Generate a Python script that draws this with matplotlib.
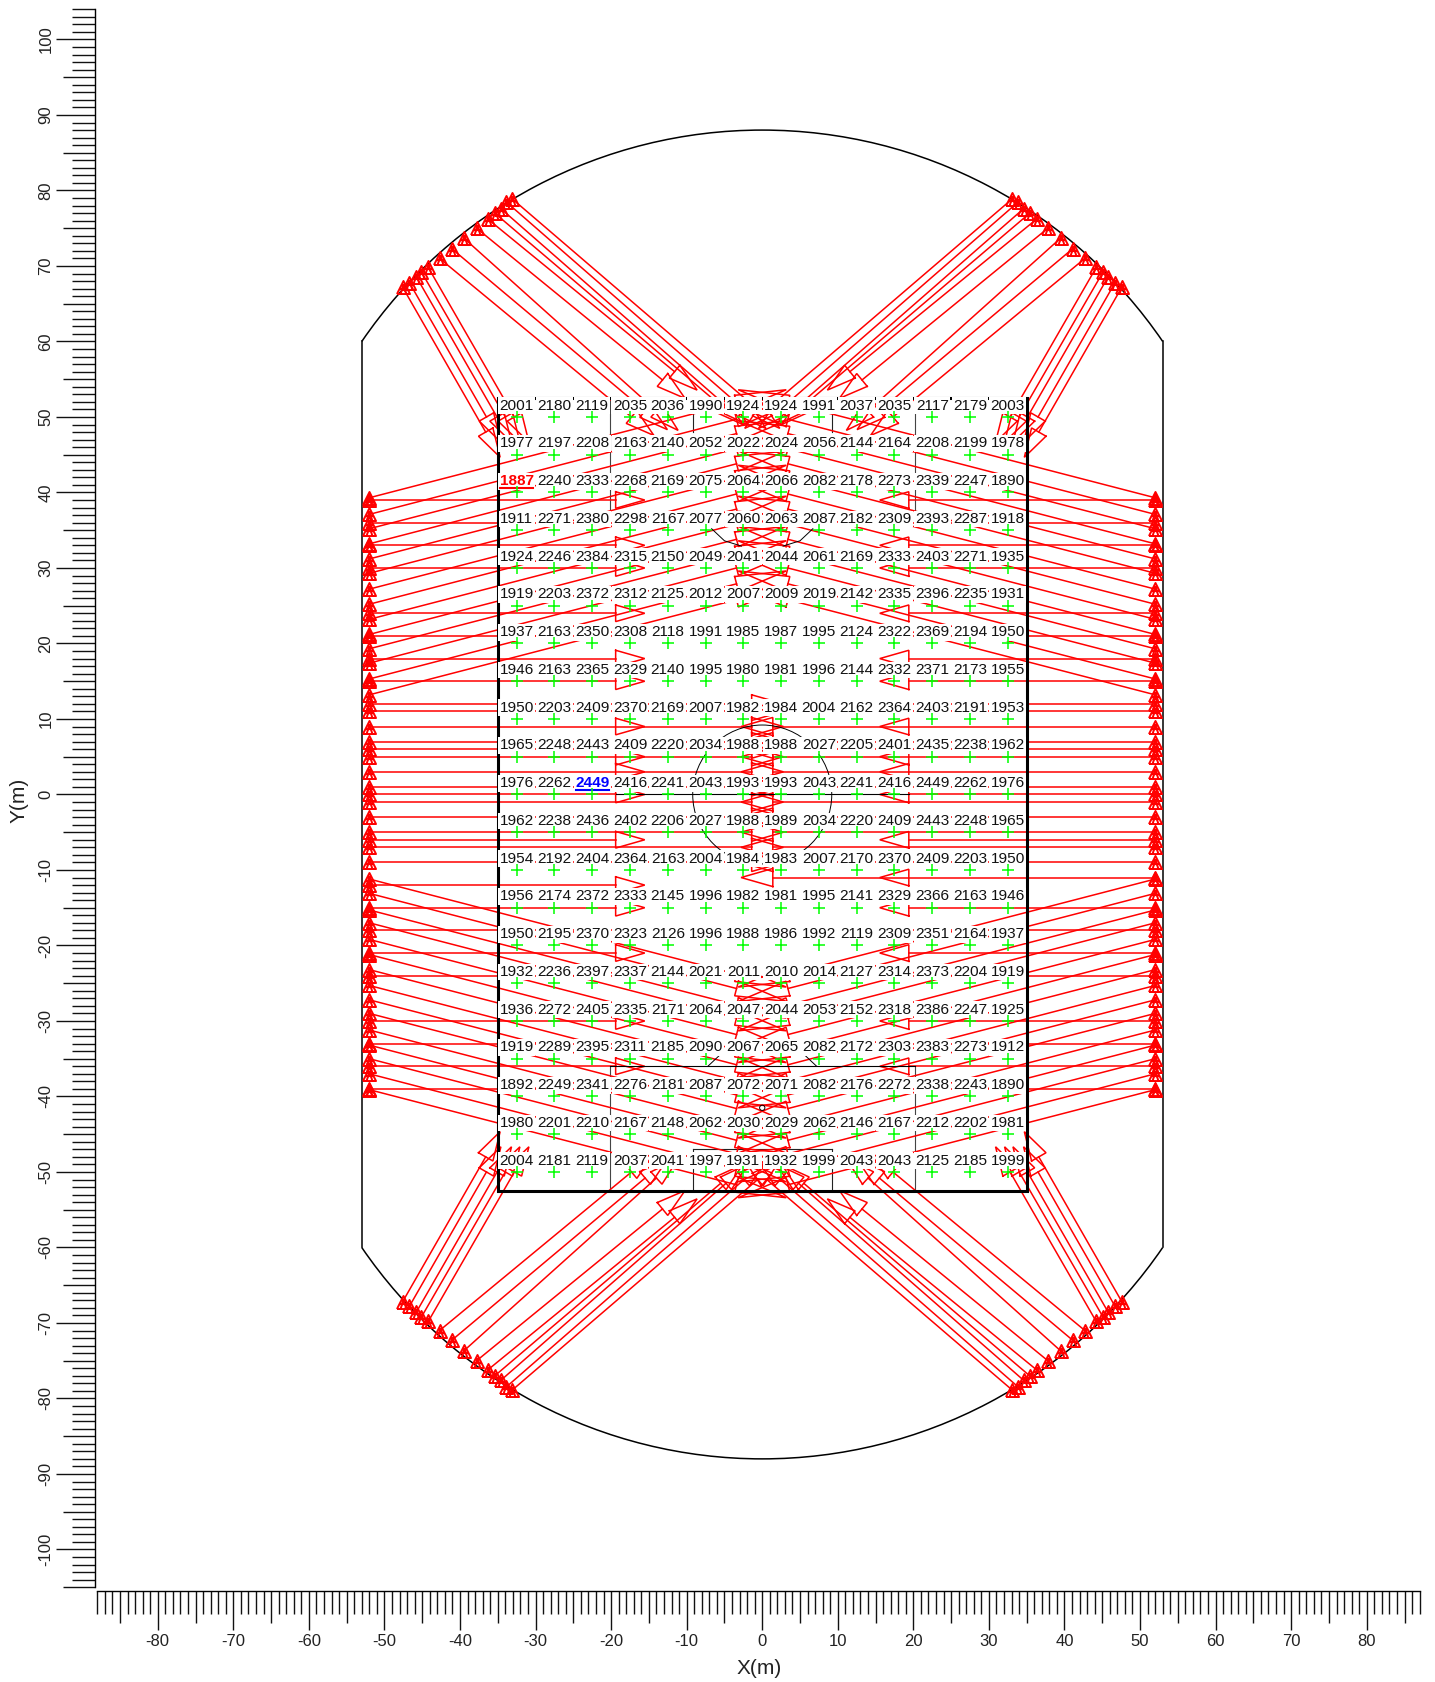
import numpy as np
import matplotlib
matplotlib.use("Agg")
import matplotlib.pyplot as plt
import matplotlib.patches as mpatches
from matplotlib.path import Path
from matplotlib.ticker import MultipleLocator

plt.rcParams["font.family"] = ["Liberation Sans", "DejaVu Sans"]
plt.rcParams["axes.unicode_minus"] = False

# ── Grid values ───────────────────────────────────────────────────────────────
col_x = [-32.5, -27.5, -22.5, -17.5, -12.5, -7.5, -2.5, 2.5, 7.5, 12.5, 17.5, 22.5, 27.5, 32.5]
row_y = [50, 45, 40, 35, 30, 25, 20, 15, 10, 5, 0, -5, -10, -15, -20, -25, -30, -35, -40, -45, -50]
grid_vals = [
    [2001, 2180, 2119, 2035, 2036, 1990, 1924, 1924, 1991, 2037, 2035, 2117, 2179, 2003],
    [1977, 2197, 2208, 2163, 2140, 2052, 2022, 2024, 2056, 2144, 2164, 2208, 2199, 1978],
    [1887, 2240, 2333, 2268, 2169, 2075, 2064, 2066, 2082, 2178, 2273, 2339, 2247, 1890],
    [1911, 2271, 2380, 2298, 2167, 2077, 2060, 2063, 2087, 2182, 2309, 2393, 2287, 1918],
    [1924, 2246, 2384, 2315, 2150, 2049, 2041, 2044, 2061, 2169, 2333, 2403, 2271, 1935],
    [1919, 2203, 2372, 2312, 2125, 2012, 2007, 2009, 2019, 2142, 2335, 2396, 2235, 1931],
    [1937, 2163, 2350, 2308, 2118, 1991, 1985, 1987, 1995, 2124, 2322, 2369, 2194, 1950],
    [1946, 2163, 2365, 2329, 2140, 1995, 1980, 1981, 1996, 2144, 2332, 2371, 2173, 1955],
    [1950, 2203, 2409, 2370, 2169, 2007, 1982, 1984, 2004, 2162, 2364, 2403, 2191, 1953],
    [1965, 2248, 2443, 2409, 2220, 2034, 1988, 1988, 2027, 2205, 2401, 2435, 2238, 1962],
    [1976, 2262, 2449, 2416, 2241, 2043, 1993, 1993, 2043, 2241, 2416, 2449, 2262, 1976],
    [1962, 2238, 2436, 2402, 2206, 2027, 1988, 1989, 2034, 2220, 2409, 2443, 2248, 1965],
    [1954, 2192, 2404, 2364, 2163, 2004, 1984, 1983, 2007, 2170, 2370, 2409, 2203, 1950],
    [1956, 2174, 2372, 2333, 2145, 1996, 1982, 1981, 1995, 2141, 2329, 2366, 2163, 1946],
    [1950, 2195, 2370, 2323, 2126, 1996, 1988, 1986, 1992, 2119, 2309, 2351, 2164, 1937],
    [1932, 2236, 2397, 2337, 2144, 2021, 2011, 2010, 2014, 2127, 2314, 2373, 2204, 1919],
    [1936, 2272, 2405, 2335, 2171, 2064, 2047, 2044, 2053, 2152, 2318, 2386, 2247, 1925],
    [1919, 2289, 2395, 2311, 2185, 2090, 2067, 2065, 2082, 2172, 2303, 2383, 2273, 1912],
    [1892, 2249, 2341, 2276, 2181, 2087, 2072, 2071, 2082, 2176, 2272, 2338, 2243, 1890],
    [1980, 2201, 2210, 2167, 2148, 2062, 2030, 2029, 2062, 2146, 2167, 2212, 2202, 1981],
    [2004, 2181, 2119, 2037, 2041, 1997, 1931, 1932, 1999, 2043, 2043, 2125, 2185, 1999],
]

# ── Rays from the side walls ──────────────────────────────────────────────────
flat_y_left = [39, 36, 33, 30, 24, 21, 18, 15, 12, 11, 9, 7, 6, 5, 3, 1, 0, -1, -3, -5, -6, -7, -9,
               -12, -15, -18, -21, -24, -30, -33, -36, -39]
flat_y_right = [39, 36, 33, 30, 24, 21, 18, 15, 12, 11, 9, 7, 6, 5, 3, 1, 0, -1, -3, -5, -6, -7, -9,
                -11, -15, -18, -21, -24, -30, -33, -36, -39]
# flat rays that carry on to the middle of the hall
through_left = [12, 11, 9, 7, 6, 5, 3, 1, -1, -3, -5, -7, -9]
through_right = [9, 7, 6, 5, 3, 1, -1, -3, -5, -7, -9, -11]
# flat rays with an open head at x=+-19.4
head_y_left = [39, 33, 30, 24, 18, 15, 9, 5, 3, 0, -6, -12, -15, -21, -30, -36]
head_y_right = [39, 33, 30, 24, 18, 15, 9, 5, 3, 0, -6, -11, -15, -21, -30, -36]

slope_start_top = [39.3, 37.1, 35.2, 33.2, 31.2, 29.3, 27.2, 25.2, 23.2, 21.2, 19.3, 17.4, 15.3, 13.2]
slope_end_top = [51.9, 49.7, 47.8, 45.8, 43.8, 41.9, 39.8, 37.8, 35.8, 33.8, 31.9, 30.0, 27.9, 25.8]
slope_start_bot = [-11.2, -13.1, -15.3, -17.0, -19.2, -21.2, -23.2, -25.3, -27.2, -29.0, -31.2, -33.2, -35.0, -37.0, -39.1]
slope_end_bot = [-23.8, -25.7, -27.9, -29.6, -31.8, -33.8, -35.8, -37.9, -39.8, -41.6, -43.8, -45.8, -47.6, -49.6, -51.7]

# ── Rays from the curved ends (upper left quarter, mirrored for the others) ───
corner_start_x = [-47.6, -46.7, -45.8, -45.1, -44.2, -42.7, -41.1, -39.5, -37.8, -36.3, -35.4, -34.6, -33.9, -33.1]
corner_start_y = [67.2, 67.8, 68.6, 69.2, 69.8, 71.0, 72.3, 73.7, 75.0, 76.2, 77.0, 77.6, 78.5, 78.9]
corner_end_x = [-36.6, -36.5, -35.1, -34.0, -32.8, -17.3, -15.5, -14.0, -13.2, -11.6, -5.5, -4.8, -2.4, -0.6]
corner_end_y = [48.0, 50.0, 50.0, 50.0, 50.0, 50.0, 50.8, 50.8, 54.9, 56.0, 51.5, 51.5, 51.0, 51.0]

# ── Contours ──────────────────────────────────────────────────────────────────
wall_x = 53
wall_top = 60
arc_center_y = 23.84
arc_radius = 64.16
hall_x = 35
hall_y = 52.5
inner_x = 20.2
inner_top = 37.7
inner_bot = -36
short_x = 9.2
short_top = [50.5, 48]
short_bot = -47
ring_radius = 9.2

RED = "#ff0000"
GREEN = "#00ff00"
LW = 1.1


def open_head(ax, ex, ey, ux, uy, length, half):
    """Open triangle with its base on (ex, ey), pointing along (ux, uy)."""
    px, py = -uy, ux
    xs = [ex + px * half, ex + ux * length, ex - px * half, ex + px * half]
    ys = [ey + py * half, ey + uy * length, ey - py * half, ey + py * half]
    ax.plot(xs, ys, color=RED, lw=LW, zorder=3, solid_joinstyle="miter")


def ray(ax, x0, y0, x1, y1, length=3.85, half=1.1, head=True):
    ax.plot([x0, x1], [y0, y1], color=RED, lw=LW, zorder=3)
    if head:
        d = np.hypot(x1 - x0, y1 - y0)
        open_head(ax, x1, y1, (x1 - x0) / d, (y1 - y0) / d, length, half)


# Upward "A" shaped head sitting on the wall, doubled up so it reads heavy
wall_head = Path(
    [(-1, -1), (0, 1), (1, -1), (-1, -1), (-0.55, -0.25), (0.55, -0.25), (-0.45, -1), (0, 0.4), (0.45, -1)],
    [Path.MOVETO, Path.LINETO, Path.LINETO, Path.LINETO, Path.MOVETO, Path.LINETO, Path.MOVETO, Path.LINETO, Path.LINETO],
)

# figure is laid out in the reference's pixels
W, H = 1435, 1682
fig = plt.figure(figsize=(W / 100, H / 100), dpi=100)
ax = fig.add_axes([97.3 / W, 1 - 1591 / H, (1420 - 97.3) / W, (1591 - 8.3) / H])
ax.set_xlim(-88, 87.05)
ax.set_ylim(-105.5, 104.13)

# ── Outline ───────────────────────────────────────────────────────────────────
ang = np.degrees(np.arctan2(wall_top - arc_center_y, wall_x))
ax.add_patch(mpatches.Arc((0, arc_center_y), 2 * arc_radius, 2 * arc_radius, theta1=ang, theta2=180 - ang,
                          color="black", lw=1.1, zorder=1))
ax.add_patch(mpatches.Arc((0, -arc_center_y), 2 * arc_radius, 2 * arc_radius, theta1=180 + ang, theta2=360 - ang,
                          color="black", lw=1.1, zorder=1))
for sx in (-1, 1):
    ax.plot([sx * wall_x, sx * wall_x], [-wall_top, wall_top], color="black", lw=1.1, zorder=1)

# ── Thin contours, most of them covered by the number boxes ───────────────────
for sx in (-1, 1):
    ax.plot([sx * inner_x] * 2, [hall_y, inner_top], color="#444444", lw=0.8, zorder=2)
    ax.plot([sx * inner_x] * 2, [inner_bot, -hall_y], color="#444444", lw=0.8, zorder=2)
    ax.plot([sx * short_x] * 2, short_top, color="#222222", lw=0.8, zorder=2)
    ax.plot([sx * short_x] * 2, [short_bot, -hall_y], color="#222222", lw=0.8, zorder=2)
    ax.plot([sx * 6.7, sx * 5.0, sx * 2.75], [35.2, 33.6, 32.9], color="black", lw=0.7, zorder=4)
    ax.plot([sx * 7.2, sx * 5.6], [-36, -34.5], color="black", lw=0.7, zorder=4)
ax.plot([-short_x, short_x], [short_bot, short_bot], color="#222222", lw=0.8, zorder=2)
ax.plot([-inner_x, inner_x], [inner_bot, inner_bot], color="black", lw=0.8, zorder=4)
ax.plot([-19.4, 19.4], [0, 0], color="black", lw=0.8, zorder=4)
ax.add_patch(mpatches.Circle((0, 0), ring_radius, fc="none", ec="black", lw=0.7, zorder=4))
ax.add_patch(mpatches.Circle((0, -41.5), 0.35, fc="none", ec="black", lw=0.7, zorder=4))
ax.add_patch(mpatches.Circle((0, 41.7), 0.35, fc="none", ec="black", lw=0.7, zorder=4))

# ── Rays ──────────────────────────────────────────────────────────────────────
wall_ends = {-1: [], 1: []}
for sx, flat, through, heads in ((-1, flat_y_left, through_left, head_y_left),
                                 (1, flat_y_right, through_right, head_y_right)):
    for y in flat:
        wall_ends[sx].append(y)
        stop = 1.4 if y in through else 19.4
        ray(ax, sx * 52, y, sx * stop, y, head=False)
        if y in through:
            open_head(ax, sx * stop, y, -sx, 0, 4.2, 1.2)
        if y in heads:
            open_head(ax, sx * 19.4, y, -sx, 0, 3.85, 1.1)
    for starts, ends in ((slope_start_top, slope_end_top), (slope_start_bot, slope_end_bot)):
        for y0, y1 in zip(starts, ends):
            wall_ends[sx].append(y0)
            ray(ax, sx * 52, y0, sx * 3.4, y1, length=6.8, half=1.0)

corner_x, corner_y = [], []
for sx in (-1, 1):
    for sy in (-1, 1):
        for x0, y0, x1, y1 in zip(corner_start_x, corner_start_y, corner_end_x, corner_end_y):
            ray(ax, sx * x0, sy * y0, sx * x1, sy * y1)
            corner_x.append(sx * x0)
            corner_y.append(sy * y0)

head_style = dict(marker=wall_head, ms=9.4, mfc="none", mec=RED, mew=1.4, ls="none", zorder=3)
ax.plot(corner_x, corner_y, **head_style)
for sx in (-1, 1):
    ax.plot([sx * 52] * len(wall_ends[sx]), wall_ends[sx], **head_style)

# ── Hall outline ──────────────────────────────────────────────────────────────
ax.add_patch(mpatches.Rectangle((-hall_x, -hall_y), 2 * hall_x, 2 * hall_y, fc="none", ec="black", lw=2.2, zorder=4))

# ── Numbers and grid crosses ──────────────────────────────────────────────────
vals = np.array(grid_vals)
box = dict(fc="white", ec="none", pad=1.0)
for i, y in enumerate(row_y):
    for j, x in enumerate(col_x):
        color, weight = "#111111", "normal"
        if vals[i, j] == vals.min():
            color, weight = RED, "bold"
        elif vals[i, j] == vals.max() and j == 2:
            color, weight = "#0000ff", "bold"
        ax.text(x, y + 1.5, str(vals[i, j]), ha="center", va="center", fontsize=11.1, color=color,
                fontweight=weight, bbox=box, zorder=5)
        if weight == "bold":
            ax.plot([x - 2.2, x + 2.2], [y + 0.65, y + 0.65], color=color, lw=1.5, zorder=6)

xx, yy = np.meshgrid(col_x, row_y)
ax.plot(xx.ravel(), yy.ravel(), ls="none", marker="+", ms=8.6, mew=1.1, color=GREEN, zorder=6)

# ── Axes ──────────────────────────────────────────────────────────────────────
for s in ("top", "right"):
    ax.spines[s].set_visible(False)
ax.spines["left"].set_position(("outward", 1.7))
ax.spines["left"].set_bounds(-105, 104)
ax.spines["bottom"].set_bounds(-88, 87)
ax.spines["left"].set_linewidth(1.0)
ax.spines["bottom"].set_linewidth(1.0)
ax.patch.set_alpha(0)

for axis in (ax.xaxis, ax.yaxis):
    axis.set_major_locator(MultipleLocator(10))
    axis.set_minor_locator(MultipleLocator(1))
ax.tick_params(which="major", length=28, width=1.0, labelsize=12, color="#111111", labelcolor="#222222")
ax.tick_params(which="minor", length=16.5, width=1.0, color="#111111")
ax.tick_params(axis="x", which="major", pad=3.2)
ax.tick_params(axis="y", which="major", pad=1.8)
plt.setp(ax.get_yticklabels(), rotation=90, va="center")
for axis in (ax.xaxis, ax.yaxis):
    locs = axis.get_minorticklocs()
    for loc, tick in zip(locs, axis.get_minor_ticks(len(locs))):
        if round(loc) % 5 == 0:
            tick.tick1line.set_markersize(23)

fig.text(19 / W, 1 - 800 / H, "Y(m)", rotation=90, ha="center", va="center", fontsize=15, color="#222222")
fig.text(759 / W, 1 - 1669 / H, "X(m)", ha="center", va="center", fontsize=15, color="#222222")

fig.savefig("out.png", dpi=100)
